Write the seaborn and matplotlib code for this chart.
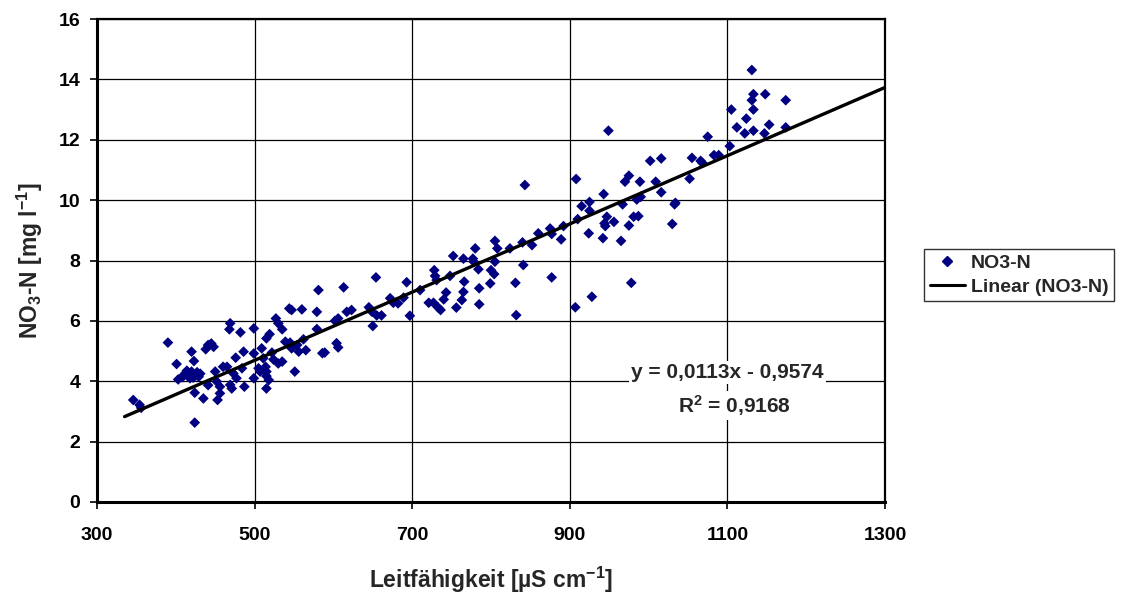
import matplotlib
matplotlib.use("Agg")
import matplotlib.pyplot as plt
import seaborn as sns
import pandas as pd
import numpy as np
from matplotlib.lines import Line2D

# Conductivity (µS/cm)
leitfaehigkeit = [
    346, 354, 356, 390, 401, 403, 408, 410, 412, 414, 416, 418, 420, 420, 422, 423,
    424, 424, 424, 426, 427, 429, 431, 435, 438, 441, 441, 445, 448, 450, 452, 453,
    456, 456, 460,
    465, 468, 469, 469, 471, 473, 476, 477, 482, 484, 486, 487, 499, 499, 499, 505,
    507, 509, 511, 514, 515, 515, 515, 515, 518, 519, 522, 524, 527, 530, 530, 535,
    535, 539, 544, 547, 545, 547, 551, 554, 556, 560, 565,
    562, 579, 579, 581, 586, 589, 602, 604, 606, 606, 613, 617, 623, 645, 649, 650,
    654, 655, 661, 672, 676, 682, 689, 693, 697,
    710, 721, 727, 728, 729, 731, 733, 736, 740, 743, 748, 752, 756, 763, 765, 765,
    766, 777, 778, 780, 784, 785, 785, 799, 800, 804, 805, 805, 808, 824, 831, 832,
    840, 841, 843, 852, 860, 875, 877, 877, 889, 892, 907, 908, 910, 915, 924, 925,
    925, 928, 942, 943, 944, 945, 947, 949, 956, 965, 967, 970, 975, 975, 978, 981,
    985, 987, 989, 990, 1002, 1009, 1016, 1016, 1030, 1033, 1034,
    1052, 1055, 1066, 1068, 1075, 1083, 1089, 1103, 1105, 1112, 1122, 1124, 1131, 1131,
    1133, 1133, 1133, 1147, 1148, 1153, 1174, 1174,
]
# Nitrate nitrogen (mg/l)
no3_n = [
    3.38, 3.22, 3.12, 5.28, 4.57, 4.06, 4.13, 4.20, 4.26, 4.35, 4.15, 4.10, 4.32, 4.98, 4.12, 4.67,
    4.21, 3.62, 2.63, 4.20, 4.30, 4.15, 4.25, 3.43, 5.06, 5.20, 3.87, 5.25, 5.14, 4.32, 3.99, 3.38,
    3.82, 3.60, 4.48,
    4.48, 5.72, 5.92, 3.88, 3.76, 4.26, 4.78, 4.10, 5.62, 4.43, 4.98, 3.82, 5.75, 4.92, 4.10, 4.43,
    4.32, 5.09, 4.76, 4.48, 5.42, 4.32, 4.17, 3.76, 4.04, 5.56, 4.95, 4.72, 6.08, 5.92, 4.59, 5.72,
    4.65, 5.31, 6.41, 6.36, 5.28, 5.09, 4.32, 5.20, 4.98, 6.38, 5.03,
    5.39, 5.73, 6.30, 7.02, 4.93, 4.95, 6.00, 5.26, 5.12, 6.08, 7.11, 6.30, 6.36, 6.45, 6.30, 5.83,
    7.44, 6.18, 6.18, 6.75, 6.60, 6.58, 6.77, 7.28, 6.17,
    7.02, 6.60, 6.60, 7.68, 7.49, 7.35, 6.44, 6.36, 6.71, 6.94, 7.49, 8.15, 6.44, 6.69, 8.06, 6.96,
    7.30, 8.06, 7.96, 8.40, 7.71, 7.08, 6.55, 7.24, 7.68, 7.55, 8.65, 7.96, 8.40, 8.40, 7.26, 6.19,
    8.60, 7.85, 10.50, 8.51, 8.90, 9.06, 8.88, 7.44, 8.70, 9.14, 6.45, 10.70, 9.37, 9.80, 8.90, 9.94,
    9.65, 6.80, 8.74, 10.20, 9.23, 9.14, 9.45, 12.30, 9.28, 8.65, 9.86, 10.61, 10.81, 9.16, 7.26, 9.45,
    10.02, 9.47, 10.61, 10.11, 11.30, 10.61, 11.38, 10.26, 9.21, 9.86, 9.91,
    10.71, 11.40, 11.30, 11.24, 12.10, 11.49, 11.49, 11.79, 13.00, 12.41, 12.21, 12.70, 14.31, 13.31,
    13.51, 13.00, 12.30, 12.21, 13.51, 12.50, 13.31, 12.41,
]

# Linear trend (from the chart's equation)
slope = 0.0113
intercept = -0.9574
r_squared = 0.9168
trend_x = [335, 1300]

x_ticks = [300, 500, 700, 900, 1100, 1300]
y_ticks = [0, 2, 4, 6, 8, 10, 12, 14, 16]

df = pd.DataFrame({"x": leitfaehigkeit, "y": no3_n})

sns.set_theme(style="white")
plt.rcParams["font.family"] = ["Liberation Sans", "DejaVu Sans"]
plt.rcParams["font.weight"] = "bold"
plt.rcParams["mathtext.fontset"] = "custom"
plt.rcParams["mathtext.rm"] = "Liberation Sans:bold"
plt.rcParams["mathtext.bf"] = "Liberation Sans:bold"
plt.rcParams["mathtext.default"] = "bf"

fig = plt.figure(figsize=(11.25, 5.98), dpi=100)
ax = fig.add_axes([97 / 1125, 1 - 502 / 598, (885 - 97) / 1125, (502 - 19) / 598])

navy = "#000080"
sns.scatterplot(data=df, x="x", y="y", ax=ax, marker="D", color=navy, s=30,
                linewidth=0, edgecolor="none", zorder=3, legend=False)

tx = np.array(trend_x, dtype=float)
ax.plot(tx, slope * tx + intercept, color="black", lw=2.4, zorder=4)

ax.set_xlim(300, 1300)
ax.set_ylim(0, 16)
ax.set_xticks(x_ticks)
ax.set_yticks(y_ticks)
ax.set_xticklabels([str(t) for t in x_ticks], fontsize=14, fontweight="bold")
ax.set_yticklabels([str(t) for t in y_ticks], fontsize=14, fontweight="bold")
ax.grid(True, color="black", lw=0.9, zorder=0)
ax.set_axisbelow(True)
ax.tick_params(axis="x", direction="out", length=5, width=1.2, pad=13, colors="black", bottom=True)
ax.tick_params(axis="y", direction="out", length=5, width=1.2, pad=7, colors="black", left=True)

for side in ["left", "bottom"]:
    ax.spines[side].set_color("black")
    ax.spines[side].set_linewidth(2.2)
for side in ["top", "right"]:
    ax.spines[side].set_color("black")
    ax.spines[side].set_linewidth(1.6)

ax.set_xlabel("Leitfähigkeit [µS cm$^{-1}$]", fontsize=16.5, fontweight="bold")
ax.set_ylabel("NO$_3$-N [mg l$^{-1}$]", fontsize=16.5, fontweight="bold")
ax.xaxis.set_label_coords(0.5, -0.13)
ax.yaxis.set_label_coords(-0.066, 0.5)

eq_text = "y = " + f"{slope:.4f}".replace(".", ",") + "x - " + f"{abs(intercept):.4f}".replace(".", ",")
r2_text = "R$^2$ = " + f"{r_squared:.4f}".replace(".", ",")
ax.text(1100, 4.3, eq_text, ha="center", va="center", fontsize=15, fontweight="bold",
        bbox=dict(facecolor="white", edgecolor="none", pad=1.5), zorder=5)
ax.text(1109, 3.2, r2_text, ha="center", va="center", fontsize=15, fontweight="bold",
        bbox=dict(facecolor="white", edgecolor="none", pad=1.5), zorder=5)

handles = [
    Line2D([0], [0], marker="D", color="none", markerfacecolor=navy, markeredgecolor=navy,
           markersize=5, label="NO3-N"),
    Line2D([0], [0], color="black", lw=2.2, label="Linear (NO3-N)"),
]
leg = fig.legend(handles=handles, loc="center left", bbox_to_anchor=(924 / 1125, 1 - 275 / 598),
                 frameon=True, fancybox=False, edgecolor="black",
                 prop={"weight": "bold", "size": 14}, handlelength=1.8, borderpad=0.3,
                 labelspacing=0.3, handletextpad=0.3, borderaxespad=0.0)
leg.get_frame().set_linewidth(1.0)

fig.savefig("out.png", dpi=100)
